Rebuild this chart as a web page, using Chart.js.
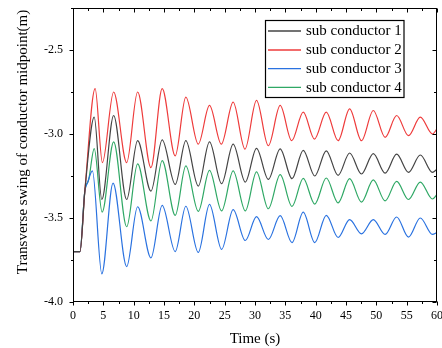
<!DOCTYPE html>
<html><head><meta charset="utf-8">
<script src="https://cdn.jsdelivr.net/npm/chart.js@4/dist/chart.umd.min.js"></script>
<style>html,body{margin:0;padding:0;background:#fff}#wrap{width:442px;height:348px}</style>
</head><body><div id="wrap"><canvas id="c" width="442" height="348"></canvas></div>
<script>
const seriesLabels = ['sub conductor 1', 'sub conductor 2', 'sub conductor 3', 'sub conductor 4'];
const seriesColors = ['#444444', '#ee3b3b', '#2a72e0', '#2fa865'];

const t1 = [0,1.15,1.95,3.5,4.75,6.7,8.85,10.65,12.85,14.7,16.85,18.6,20.65,22.5,24.5,26.4,28.4,30.25,32.2,34.15,36.1,37.95,39.85,41.75,43.7,45.6,47.55,49.5,51.45,53.35,55.3,57.25,59.25,60];
const y1 = [-3.70,-3.70,-3.34,-2.90,-3.39,-2.89,-3.39,-3.04,-3.34,-3.035,-3.30,-3.04,-3.31,-3.047,-3.296,-3.06,-3.286,-3.085,-3.27,-3.088,-3.266,-3.097,-3.25,-3.10,-3.246,-3.113,-3.238,-3.117,-3.233,-3.12,-3.228,-3.125,-3.228,-3.21];

const t2 = [0,1.15,1.95,3.65,4.85,6.7,8.85,10.65,12.85,14.7,16.85,18.6,20.65,22.5,24.45,26.4,28.35,30.25,32.2,34.15,36.05,37.95,39.8,41.75,43.7,45.6,47.55,49.5,51.45,53.35,55.3,57.25,59.25,60];
const y2 = [-3.70,-3.70,-3.34,-2.73,-3.17,-2.75,-3.17,-2.75,-3.20,-2.73,-3.13,-2.78,-3.06,-2.83,-3.06,-2.81,-3.09,-2.80,-3.07,-2.83,-3.04,-2.87,-3.03,-2.87,-3.04,-2.85,-3.04,-2.86,-3.02,-2.89,-3.01,-2.90,-3.00,-2.97];

const t3 = [0,1.15,1.95,2.4,3.2,4.75,6.6,8.85,10.65,12.85,14.7,16.85,18.6,20.65,22.5,24.5,26.4,28.4,30.25,32.2,34.15,36.1,37.95,39.85,41.75,43.7,45.6,47.55,49.5,51.45,53.35,55.3,57.25,59.25,60];
const y3 = [-3.70,-3.70,-3.34,-3.29,-3.22,-3.832,-3.292,-3.789,-3.433,-3.737,-3.425,-3.70,-3.43,-3.705,-3.419,-3.687,-3.45,-3.634,-3.492,-3.628,-3.486,-3.646,-3.465,-3.646,-3.484,-3.616,-3.51,-3.594,-3.51,-3.598,-3.494,-3.614,-3.50,-3.598,-3.586];

const t4 = [0,1.15,1.95,2.6,3.5,4.8,6.7,8.85,10.65,12.85,14.7,16.85,18.6,20.65,22.5,24.5,26.4,28.4,30.25,32.2,34.15,36.1,37.95,39.85,41.75,43.7,45.6,47.55,49.5,51.45,53.35,55.3,57.25,59.25,60];
const y4 = [-3.70,-3.70,-3.34,-3.27,-3.087,-3.465,-3.047,-3.552,-3.178,-3.518,-3.158,-3.484,-3.19,-3.46,-3.216,-3.458,-3.22,-3.458,-3.225,-3.445,-3.242,-3.431,-3.264,-3.417,-3.262,-3.41,-3.266,-3.405,-3.273,-3.398,-3.282,-3.39,-3.286,-3.387,-3.36];

const xTicks = [0,5,10,15,20,25,30,35,40,45,50,55,60];
const yTicks = [-4.0,-3.5,-3.0,-2.5];
const xTitle = 'Time (s)';
const yTitle = 'Transverse swing of conductor midpoint(m)';

const times = [t1, t2, t3, t4];
const values = [y1, y2, y3, y4];
const datasets = seriesLabels.map((lab, k) => ({
  label: lab,
  data: times[k].map((x, i) => ({x: x, y: values[k][i]})),
  borderColor: seriesColors[k],
  borderWidth: 1.2,
  pointRadius: 0,
  fill: false,
  cubicInterpolationMode: 'monotone'
}));

const SERIF = '"Liberation Serif", "Times New Roman", serif';

const framePlugin = {
  id: 'frame',
  afterDraw(chart) {
    const ctx = chart.ctx;
    const a = chart.chartArea;
    const xs = chart.scales.x, ys = chart.scales.y;
    ctx.save();
    ctx.strokeStyle = '#000';
    ctx.lineWidth = 1;
    const L = Math.round(a.left) + 0.5, R = Math.round(a.right) - 0.5;
    const T = Math.round(a.top) + 0.5, B = Math.round(a.bottom) - 0.5;
    ctx.strokeRect(L, T, R - L, B - T);
    ctx.beginPath();
    // x ticks: major and minor
    for (let i = 0; i < xTicks.length; i++) {
      const v = xTicks[i];
      const px = Math.round(xs.getPixelForValue(v)) + 0.5;
      ctx.moveTo(px, B); ctx.lineTo(px, B + 4);
      ctx.moveTo(px, T); ctx.lineTo(px, T + 4);
      if (i < xTicks.length - 1) {
        const m = (v + xTicks[i + 1]) / 2;
        const pm = Math.round(xs.getPixelForValue(m)) + 0.5;
        ctx.moveTo(pm, B); ctx.lineTo(pm, B + 2.5);
        ctx.moveTo(pm, T); ctx.lineTo(pm, T + 2.5);
      }
    }
    for (let i = 0; i < yTicks.length; i++) {
      const v = yTicks[i];
      const py = Math.round(ys.getPixelForValue(v)) + 0.5;
      ctx.moveTo(L, py); ctx.lineTo(L - 4, py);
      ctx.moveTo(R, py); ctx.lineTo(R - 4, py);
      const m = v + 0.25;
      const pm = Math.round(ys.getPixelForValue(m)) + 0.5;
      ctx.moveTo(L, pm); ctx.lineTo(L - 2.5, pm);
      ctx.moveTo(R, pm); ctx.lineTo(R - 2.5, pm);
    }
    ctx.stroke();

    // axis titles
    ctx.fillStyle = '#000';
    ctx.font = '15px ' + SERIF;
    ctx.textAlign = 'center';
    ctx.textBaseline = 'middle';
    ctx.fillText(xTitle, (a.left + a.right) / 2, 339);
    ctx.save();
    ctx.translate(23, 142);
    ctx.rotate(-Math.PI / 2);
    ctx.fillText(yTitle, 0, 0);
    ctx.restore();

    // legend
    const bx = 265.5, by = 20.5, bw = 138.5, bh = 77;
    ctx.fillStyle = '#fff';
    ctx.fillRect(bx, by, bw, bh);
    ctx.strokeStyle = '#000';
    ctx.lineWidth = 1.2;
    ctx.strokeRect(bx, by, bw, bh);
    ctx.font = '15px ' + SERIF;
    ctx.textAlign = 'left';
    ctx.textBaseline = 'middle';
    const rows = [31, 50, 68.7, 87.3];
    chart.data.datasets.forEach((ds, k) => {
      const yy = rows[k];
      ctx.strokeStyle = ds.borderColor;
      ctx.lineWidth = 1.3;
      ctx.beginPath();
      ctx.moveTo(268, yy); ctx.lineTo(301, yy);
      ctx.stroke();
      ctx.fillStyle = '#000';
      ctx.fillText(ds.label, 306, yy + 0.5);
    });
    ctx.restore();
  }
};

new Chart(document.getElementById('c'), {
  type: 'line',
  data: { datasets: datasets },
  options: {
    responsive: false,
    animation: false,
    devicePixelRatio: 1,
    layout: { padding: { top: 8, right: 5, left: 0, bottom: 0 } },
    plugins: { legend: { display: false }, tooltip: { enabled: false } },
    scales: {
      x: {
        type: 'linear', min: 0, max: 60,
        afterBuildTicks(s) { s.ticks = xTicks.map(v => ({value: v})); },
        afterFit(s) { s.height = 46; s.paddingLeft = 0; s.paddingRight = 0; },
        grid: { display: false, drawTicks: false },
        border: { display: false },
        ticks: { color: '#000', font: { family: SERIF, size: 12 }, padding: 7, maxRotation: 0, autoSkip: false,
                 callback: v => String(v) }
      },
      y: {
        type: 'linear', min: -4.0, max: -2.25,
        afterBuildTicks(s) { s.ticks = yTicks.map(v => ({value: v})); },
        afterFit(s) { s.width = 73; s.paddingTop = 0; s.paddingBottom = 0; },
        grid: { display: false, drawTicks: false },
        border: { display: false },
        ticks: { color: '#000', font: { family: SERIF, size: 12 }, padding: 10, autoSkip: false,
                 callback: v => Number(v).toFixed(1) }
      }
    }
  },
  plugins: [framePlugin]
});
</script></body></html>
